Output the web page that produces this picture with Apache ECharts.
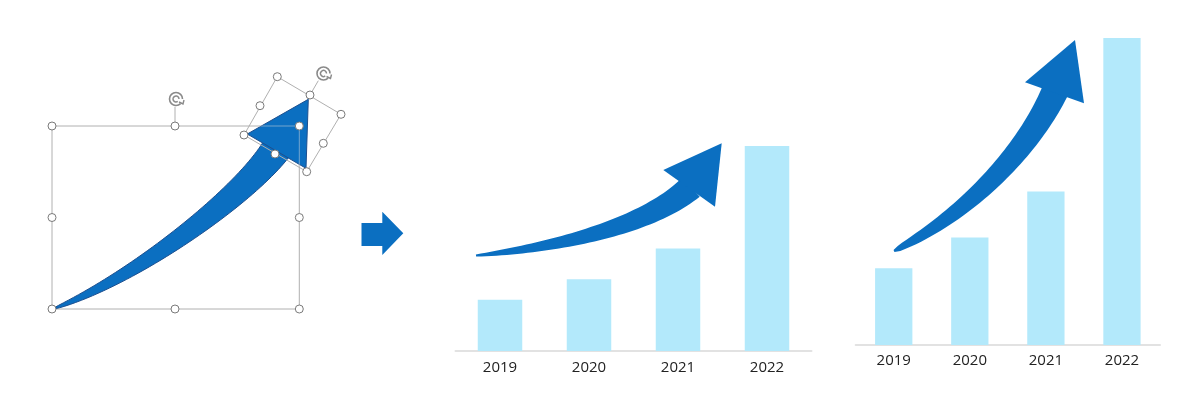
<!DOCTYPE html>
<html><head><meta charset="utf-8">
<script src="https://cdn.jsdelivr.net/npm/echarts@6/dist/echarts.min.js"></script>
<style>html,body{margin:0;padding:0;background:#fff}#c{width:1200px;height:400px}</style>
</head><body><div id="c"></div>
<script>
// ---- data ----
const years = ['2019', '2020', '2021', '2022'];
const valuesMid = [25, 35, 50, 100];
const valuesRight = [25, 35, 50, 100];

// ---- decoration helpers (illustrative arrows, not data marks) ----
function shaft(P0, C1, C2, P3, w0, w1, p) {
  const n = 48, up = [], lo = [];
  for (let i = 0; i <= n; i++) {
    const t = i / n, u = 1 - t;
    const x = u*u*u*P0[0] + 3*u*u*t*C1[0] + 3*u*t*t*C2[0] + t*t*t*P3[0];
    const y = u*u*u*P0[1] + 3*u*u*t*C1[1] + 3*u*t*t*C2[1] + t*t*t*P3[1];
    const dx = 3*u*u*(C1[0]-P0[0]) + 6*u*t*(C2[0]-C1[0]) + 3*t*t*(P3[0]-C2[0]);
    const dy = 3*u*u*(C1[1]-P0[1]) + 6*u*t*(C2[1]-C1[1]) + 3*t*t*(P3[1]-C2[1]);
    const L = Math.hypot(dx, dy) || 1;
    const nx = -dy / L, ny = dx / L;
    const w = (w0 + (w1 - w0) * Math.pow(t, p)) / 2;
    up.push([x - nx * w, y - ny * w]);
    lo.push([x + nx * w, y + ny * w]);
  }
  return up.concat(lo.reverse());
}
const BLUE = '#0b6fc1';

const midShaft = shaft([476, 255.5], [556, 247.5], [648, 226], [691, 187], 2, 26, 0.85);
const midHead = [[663.3, 170], [721.7, 143.3], [715, 206.7]];
const rightShaft = shaft([894, 251], [975, 210], [1032, 143], [1056, 89], 2, 27, 0.5);
const rightHead = [[1025, 82.3], [1075, 40], [1084, 103.3]];
const leftShaft = shaft([54, 308.5], [134, 278.5], [245, 195.5], [277, 148], 1, 30, 0.75);
const leftHead = [[247.3, 134], [308.3, 99.3], [306, 168.3]];

function handle(x, y) {
  return { type: 'circle', shape: { cx: x, cy: y, r: 4 }, style: { fill: '#fff', stroke: '#7a7a7a', lineWidth: 1 }, z: 30 };
}
function line(x1, y1, x2, y2, z) {
  return { type: 'line', shape: { x1, y1, x2, y2 }, style: { stroke: '#b0b0b0', lineWidth: 1 }, z: z || 5 };
}
function rotIcon(cx, cy) {
  return [
    { type: 'arc', shape: { cx, cy, r: 6.5, startAngle: 0.25 * Math.PI, endAngle: 2.0 * Math.PI, clockwise: true }, style: { stroke: '#8a8a8a', lineWidth: 1.6, fill: null }, z: 30 },
    { type: 'arc', shape: { cx, cy, r: 3, startAngle: 0.3 * Math.PI, endAngle: 2.0 * Math.PI, clockwise: true }, style: { stroke: '#8a8a8a', lineWidth: 1.4, fill: null }, z: 30 },
    { type: 'polyline', shape: { points: [[cx + 3, cy + 3], [cx + 7, cy + 5], [cx + 8, cy + 1]] }, style: { stroke: '#8a8a8a', lineWidth: 1.4, fill: null }, z: 30 }
  ];
}

const graphics = [
  { type: 'polygon', shape: { points: midShaft }, style: { fill: BLUE }, z: 20 },
  { type: 'polygon', shape: { points: midHead }, style: { fill: BLUE }, z: 20 },
  { type: 'polygon', shape: { points: rightShaft }, style: { fill: BLUE }, z: 20 },
  { type: 'polygon', shape: { points: rightHead }, style: { fill: BLUE }, z: 20 },
  { type: 'polygon', shape: { points: [[361.5, 223], [382.3, 223], [382.3, 211.7], [403.3, 233.3], [382.3, 255], [382.3, 246], [361.5, 246]] }, style: { fill: BLUE }, z: 20 },
  line(52, 126, 299.3, 126),
  line(299.3, 126, 299.3, 309),
  line(299.3, 309, 52, 309),
  line(52, 309, 52, 126),
  line(175, 106.7, 175, 126),
  { type: 'polygon', shape: { points: leftShaft }, style: { fill: BLUE, stroke: '#1d4f8f', lineWidth: 1 }, z: 10 },
  { type: 'polygon', shape: { points: leftHead }, style: { fill: BLUE, stroke: '#1d4f8f', lineWidth: 1 }, z: 11 },
  { type: 'line', shape: { x1: 250, y1: 126, x2: 299.3, y2: 126 }, style: { stroke: 'rgba(220,220,220,0.5)', lineWidth: 1 }, z: 12 },
  { type: 'line', shape: { x1: 299.3, y1: 126, x2: 299.3, y2: 168 }, style: { stroke: 'rgba(220,220,220,0.5)', lineWidth: 1 }, z: 12 },
  line(277.3, 76.7, 341, 114.3, 25),
  line(341, 114.3, 306.7, 171.7, 25),
  line(306.7, 171.7, 244, 135, 25),
  line(244, 135, 277.3, 76.7, 25),
  line(310, 95, 318.3, 80.7, 25),
  handle(52, 126), handle(175, 126), handle(52, 217.5), handle(299.3, 217.5),
  handle(52, 309), handle(175, 309), handle(299.3, 309), handle(299.3, 126),
  handle(277.3, 76.7), handle(310, 95), handle(341, 114.3), handle(323.3, 143.3),
  handle(306.7, 171.7), handle(275, 154), handle(244, 135), handle(260, 105.7)
].concat(rotIcon(176, 99), rotIcon(323.5, 73.5));

const axisCommon = {
  type: 'category',
  data: years,
  axisLine: { show: true, lineStyle: { color: '#e2e2e2', width: 2 } },
  axisTick: { show: false },
  axisLabel: { color: '#222', fontSize: 15, fontFamily: 'Open Sans', margin: 9 }
};
const yCommon = { type: 'value', min: 0, max: 100, show: false, splitLine: { show: false } };

const option = {
  backgroundColor: '#fff',
  animation: false,
  grid: [
    { left: 455.5, width: 356, top: 146, bottom: 49 },
    { left: 855.7, width: 304.3, top: 38, bottom: 55 }
  ],
  xAxis: [
    Object.assign({ gridIndex: 0 }, axisCommon),
    Object.assign({ gridIndex: 1 }, axisCommon, { axisLabel: Object.assign({}, axisCommon.axisLabel, { margin: 8 }) })
  ],
  yAxis: [Object.assign({ gridIndex: 0 }, yCommon), Object.assign({ gridIndex: 1 }, yCommon)],
  series: [
    { type: 'bar', xAxisIndex: 0, yAxisIndex: 0, data: valuesMid, barWidth: 44.5, itemStyle: { color: '#b3e9fb' }, z: 2 },
    { type: 'bar', xAxisIndex: 1, yAxisIndex: 1, data: valuesRight, barWidth: 37.3, itemStyle: { color: '#b3e9fb' }, z: 2 }
  ],
  graphic: graphics
};
const chart = echarts.init(document.getElementById('c'), null, { renderer: 'canvas' });
chart.setOption(option);
</script>
</body></html>
